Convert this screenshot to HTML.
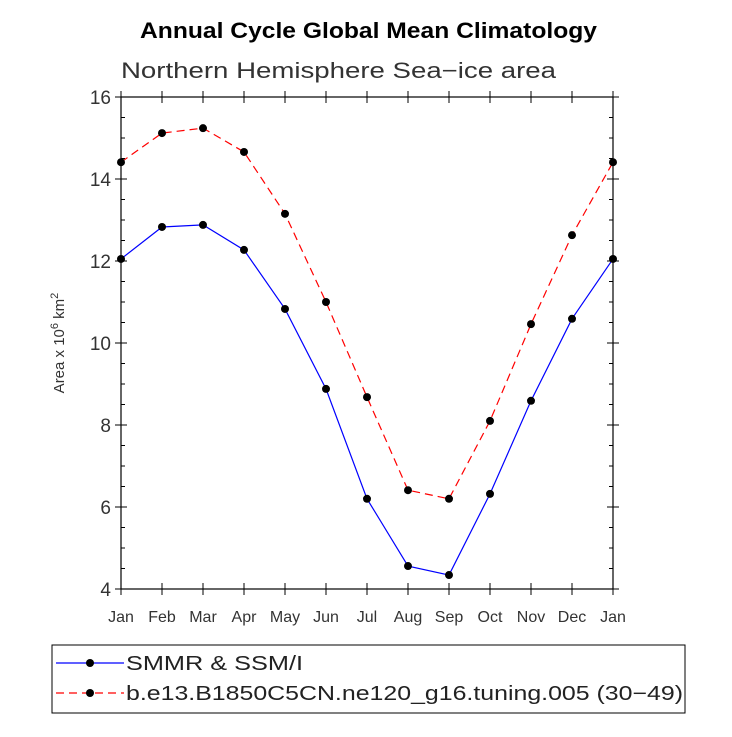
<!DOCTYPE html>
<html><head><meta charset="utf-8"><style>
body{margin:0;background:#fff;font-family:"Liberation Sans",sans-serif}
</style></head><body>
<svg id="c" width="732" height="732" xmlns="http://www.w3.org/2000/svg">
<text x="140" y="38" font-size="22" font-weight="bold" textLength="457" lengthAdjust="spacingAndGlyphs">Annual Cycle Global Mean Climatology</text>
<text x="121" y="78" font-size="22" fill="#333" textLength="435" lengthAdjust="spacingAndGlyphs">Northern Hemisphere Sea−ice area</text>
<text transform="translate(64,343) rotate(-90)" text-anchor="middle" font-size="15" fill="#333">Area x 10<tspan dy="-6" font-size="11">6</tspan><tspan dy="6"> km</tspan><tspan dy="-6" font-size="11">2</tspan></text>
<g id="axes"></g><g id="series"></g>
<rect x="52" y="645" width="633" height="68" fill="none" stroke="#000"/>
<g>
<line x1="56" y1="663" x2="124" y2="663" stroke="#00f" stroke-width="1.2"/><circle cx="90" cy="663" r="4" fill="#000"/>
<text x="126" y="670" font-size="20" fill="#222" textLength="177" lengthAdjust="spacingAndGlyphs">SMMR &amp; SSM/I</text></g>
<g>
<line x1="56" y1="693" x2="124" y2="693" stroke="#f00" stroke-width="1.2" stroke-dasharray="8,5"/><circle cx="90" cy="693" r="4" fill="#000"/>
<text x="126" y="700" font-size="20" fill="#222" textLength="557" lengthAdjust="spacingAndGlyphs">b.e13.B1850C5CN.ne120_g16.tuning.005 (30−49)</text></g>
</svg>
<script>
const months=["Jan","Feb","Mar","Apr","May","Jun","Jul","Aug","Sep","Oct","Nov","Dec","Jan"];
const obs=[12.05,12.83,12.88,12.27,10.83,8.88,6.2,4.56,4.34,6.32,8.59,10.59,12.05];
const model=[14.41,15.12,15.24,14.66,13.15,11.0,8.68,6.41,6.2,8.1,10.46,12.63,14.41];
const yTicks=[4,6,8,10,12,14,16];
const NS="http://www.w3.org/2000/svg";
const L=121,R=613,T=97,B=589;
const xs=i=>L+i*(R-L)/12, ys=v=>B-(v-4)*(B-T)/12;
function mk(t,a,p){const e=document.createElementNS(NS,t);for(const k in a)e.setAttribute(k,a[k]);p.appendChild(e);return e;}
const ax=document.getElementById('axes');
const fr=mk('rect',{x:L,y:T,width:R-L,height:B-T,fill:'none',stroke:'#000','stroke-width':1.2},ax);


for(let v=4;v<=16;v+=0.5){const y=ys(v);const maj=v%2===0;const l=maj?6:4;
mk('line',{x1:L-(maj?6:0),y1:y,x2:L+l,y2:y,stroke:'#000'},ax);
mk('line',{x1:R-l,y1:y,x2:R+(maj?6:0),y2:y,stroke:'#000'},ax);}
yTicks.forEach(v=>{const t=mk('text',{x:L-10,y:ys(v)+7,'text-anchor':'end','font-size':19,fill:'#333'},ax);t.textContent=v;

});
months.forEach((m,i)=>{const x=xs(i);
mk('line',{x1:x,y1:B-6,x2:x,y2:B+6,stroke:'#000'},ax);
mk('line',{x1:x,y1:T-6,x2:x,y2:T+6,stroke:'#000'},ax);
const t=mk('text',{x:x,y:B+33,'text-anchor':'middle','font-size':16,fill:'#333'},ax);t.textContent=m;

});
const sg=document.getElementById('series');
function draw(vals,col,dash,name){
const pl=mk('polyline',{points:vals.map((v,i)=>xs(i)+','+ys(v)).join(' '),fill:'none',stroke:col,'stroke-width':1.2,'stroke-dasharray':dash},sg);


vals.forEach((v,i)=>{const c=mk('circle',{cx:xs(i),cy:ys(v),r:4,fill:'#000'},sg);

});}
draw(obs,'#00f','none','obs');
draw(model,'#f00','8,5','model');
</script>
</body></html>
